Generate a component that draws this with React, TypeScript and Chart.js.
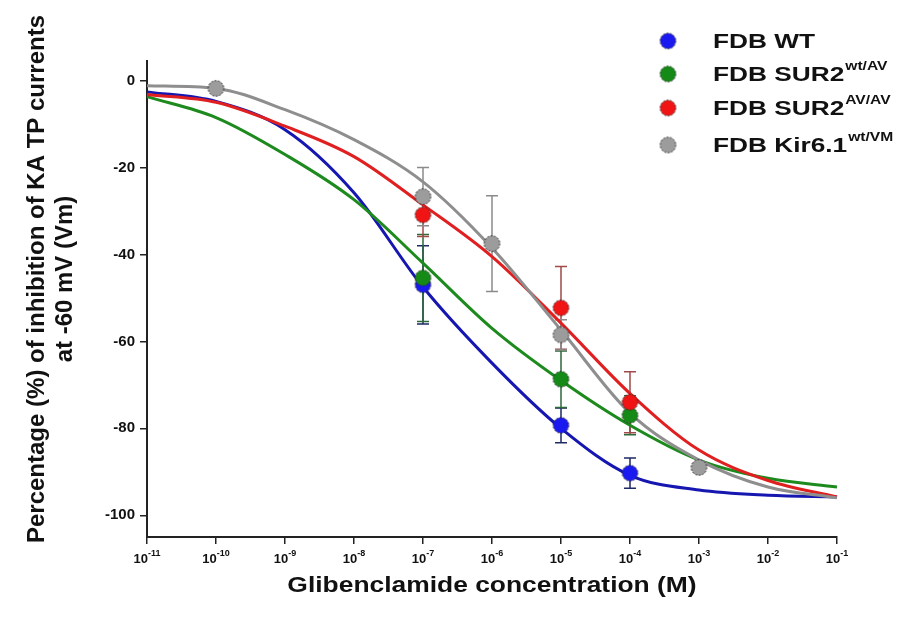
import React, { useEffect, useRef } from 'react';
import { Chart, registerables } from 'chart.js';

Chart.register(...registerables);

// ---------- data ----------
const CURVE_X = [1e-11, 1e-10, 1e-9, 1e-8, 1e-7, 1e-6, 1e-5, 1e-4, 1e-3, 1e-2, 1e-1];
const WT_CURVE = [-2.6, -4.8, -11.3, -25.8, -47.5, -65, -80, -90.8, -94.2, -95.4, -95.8];
const SUR2_WTAV_CURVE = [-3.7, -8.5, -17, -27.4, -42, -57, -69, -79.3, -87.3, -91.5, -93.5];
const SUR2_AVAV_CURVE = [-3.2, -5, -10.5, -17.5, -28.6, -40.5, -55.8, -72, -85, -92, -95.8];
const KIR_CURVE = [-1.2, -1.8, -6.7, -13.6, -23.3, -38.5, -57.4, -76.5, -87.3, -93.5, -96];

const WT_X = [1e-7, 1e-5, 1e-4];
const WT_Y = [-47, -79.3, -90.3];
const WT_ERR = [9, 4, 3.5];

const SUR2_WTAV_X = [1e-7, 1e-5, 1e-4];
const SUR2_WTAV_Y = [-45.4, -68.7, -77];
const SUR2_WTAV_ERR = [10, 6.5, 4.5];

const SUR2_AVAV_X = [1e-7, 1e-5, 1e-4];
const SUR2_AVAV_Y = [-30.9, -52.3, -74];
const SUR2_AVAV_ERR = [5, 9.5, 7];

const KIR_X = [1e-10, 1e-7, 1e-6, 1e-5, 1e-3];
const KIR_Y = [-1.8, -26.7, -37.5, -58.5, -89];
const KIR_ERR = [0, 6.7, 11, 3.5, 0];

const SERIES_LABELS = ['FDB WT', 'FDB SUR2', 'FDB SUR2', 'FDB Kir6.1'];
const SERIES_SUPERSCRIPTS = ['', 'wt/AV', 'AV/AV', 'wt/VM'];

const X_TICKS = [1e-11, 1e-10, 1e-9, 1e-8, 1e-7, 1e-6, 1e-5, 1e-4, 1e-3, 1e-2, 1e-1];
const X_TICK_EXPONENTS = ['-11', '-10', '-9', '-8', '-7', '-6', '-5', '-4', '-3', '-2', '-1'];
const Y_TICKS = [0, -20, -40, -60, -80, -100];

const X_TITLE = 'Glibenclamide concentration (M)';
const Y_TITLE_LINES = ['Percentage (%) of inhibition of KA TP currents', 'at -60 mV (Vm)'];

// ---------- styles ----------
const FONT = '"Liberation Sans", Arial, Helvetica, sans-serif';
const CURVE_COLORS = ['#1616b0', '#1d8a1d', '#e02020', '#8e8e8e'];
const MARKER_COLORS = ['#1a1af0', '#168a16', '#f01414', '#9c9c9c'];
const ERR_COLORS = ['#1e2a66', '#2c6a3a', '#a04a4a', '#8a8a8a'];

function makeMarker(color: string): HTMLCanvasElement {
  const r = 7.8;
  const size = 19;
  const c = document.createElement('canvas');
  c.width = size;
  c.height = size;
  const g = c.getContext('2d')!;
  g.beginPath();
  g.arc(size / 2, size / 2, r, 0, Math.PI * 2);
  g.fillStyle = color;
  g.fill();
  g.setLineDash([2, 1.5]);
  g.lineWidth = 1;
  g.strokeStyle = '#2a2a2a';
  g.stroke();
  return c;
}

function stretchedText(ctx: CanvasRenderingContext2D, text: string, x: number, y: number, sx: number) {
  ctx.save();
  ctx.translate(x, y);
  ctx.scale(sx, 1);
  ctx.fillText(text, 0, 0);
  ctx.restore();
}

export default function App() {
  const canvasRef = useRef<HTMLCanvasElement | null>(null);

  useEffect(() => {
    const canvas = canvasRef.current;
    if (!canvas) return;

    const markers = MARKER_COLORS.map(makeMarker);
    const curves = [WT_CURVE, SUR2_WTAV_CURVE, SUR2_AVAV_CURVE, KIR_CURVE];
    const pointsX = [WT_X, SUR2_WTAV_X, SUR2_AVAV_X, KIR_X];
    const pointsY = [WT_Y, SUR2_WTAV_Y, SUR2_AVAV_Y, KIR_Y];
    const pointsErr = [WT_ERR, SUR2_WTAV_ERR, SUR2_AVAV_ERR, KIR_ERR];

    const datasets: any[] = [];
    curves.forEach((cv, i) => {
      datasets.push({
        type: 'line',
        label: SERIES_LABELS[i] + ' fit',
        data: CURVE_X.map((x, k) => ({ x, y: cv[k] })),
        borderColor: CURVE_COLORS[i],
        borderWidth: 3,
        pointRadius: 0,
        fill: false,
        cubicInterpolationMode: 'monotone',
        order: 20 - i,
        clip: false,
      });
    });
    pointsX.forEach((xs, i) => {
      datasets.push({
        type: 'scatter',
        label: SERIES_LABELS[i] + SERIES_SUPERSCRIPTS[i],
        data: xs.map((x, k) => ({ x, y: pointsY[i][k] })),
        errors: pointsErr[i],
        errColor: ERR_COLORS[i],
        pointStyle: markers[i],
        pointRadius: 8,
        backgroundColor: MARKER_COLORS[i],
        borderColor: '#2a2a2a',
        showLine: false,
        order: 4 - i,
        clip: false,
      });
    });

    const errorBars = {
      id: 'errorBars',
      beforeDatasetsDraw(chart: any) {
        const ctx = chart.ctx;
        const ys = chart.scales.y;
        chart.data.datasets.forEach((ds: any, di: number) => {
          if (!ds.errors) return;
          const meta = chart.getDatasetMeta(di);
          meta.data.forEach((el: any, k: number) => {
            const e = ds.errors[k];
            if (!e) return;
            const v = ds.data[k].y;
            const top = ys.getPixelForValue(v + e);
            const bot = ys.getPixelForValue(v - e);
            ctx.save();
            ctx.strokeStyle = ds.errColor;
            ctx.lineWidth = 1.5;
            ctx.beginPath();
            ctx.moveTo(el.x, top);
            ctx.lineTo(el.x, bot);
            ctx.moveTo(el.x - 6, top);
            ctx.lineTo(el.x + 6, top);
            ctx.moveTo(el.x - 6, bot);
            ctx.lineTo(el.x + 6, bot);
            ctx.stroke();
            ctx.restore();
          });
        });
      },
    };

    const decorations = {
      id: 'decorations',
      afterDraw(chart: any) {
        const ctx = chart.ctx;
        const xs = chart.scales.x;
        ctx.save();
        ctx.fillStyle = '#111';
        // x tick labels 10^n
        X_TICKS.forEach((v, i) => {
          const px = xs.getPixelForValue(v);
          ctx.font = `bold 13px ${FONT}`;
          const bw = ctx.measureText('10').width;
          ctx.font = `bold 9px ${FONT}`;
          const ew = ctx.measureText(X_TICK_EXPONENTS[i]).width;
          const start = px - (bw + ew) / 2;
          ctx.textBaseline = 'alphabetic';
          ctx.textAlign = 'left';
          ctx.font = `bold 13px ${FONT}`;
          ctx.fillText('10', start, 563);
          ctx.font = `bold 9px ${FONT}`;
          ctx.fillText(X_TICK_EXPONENTS[i], start + bw, 556);
        });
        // x title
        ctx.font = `bold 22px ${FONT}`;
        ctx.textAlign = 'center';
        ctx.textBaseline = 'middle';
        stretchedText(ctx, X_TITLE, (chart.chartArea.left + chart.chartArea.right) / 2, 586, 1.2);
        // y title
        ctx.save();
        ctx.font = `bold 24px ${FONT}`;
        ctx.translate(37, 279);
        ctx.rotate(-Math.PI / 2);
        ctx.fillText(Y_TITLE_LINES[0], 0, 0);
        ctx.fillText(Y_TITLE_LINES[1], 0, 28);
        ctx.restore();
        // legend
        const rows = [41, 74, 108, 145];
        const sx = 1.25;
        SERIES_LABELS.forEach((lab, i) => {
          const y = rows[i];
          ctx.drawImage(markers[i], 668 - 9.5, y - 9.5);
          ctx.textAlign = 'left';
          ctx.textBaseline = 'middle';
          ctx.font = `bold 21px ${FONT}`;
          stretchedText(ctx, lab, 713, y + 1, sx);
          const w = ctx.measureText(lab).width * sx;
          if (SERIES_SUPERSCRIPTS[i]) {
            ctx.font = `bold 13px ${FONT}`;
            stretchedText(ctx, SERIES_SUPERSCRIPTS[i], 713 + w + 1, y - 8, 1.2);
          }
        });
        ctx.restore();
      },
    };

    const chart = new Chart(canvas, {
      type: 'scatter',
      data: { datasets },
      options: {
        animation: false,
        responsive: true,
        maintainAspectRatio: false,
        layout: { padding: { left: 0, right: 67, top: 61, bottom: 0 } },
        plugins: {
          legend: { display: false },
          tooltip: { enabled: false },
        },
        scales: {
          x: {
            type: 'logarithmic',
            min: 1e-11,
            max: 1e-1,
            afterBuildTicks(scale: any) {
              scale.ticks = X_TICKS.map((v) => ({ value: v }));
            },
            afterFit(scale: any) {
              scale.height = 82;
            },
            ticks: { display: false },
            grid: {
              drawOnChartArea: false,
              drawTicks: true,
              tickLength: 7,
              color: '#222',
              lineWidth: 1.5,
            },
            border: { display: true, color: '#222', width: 2 },
          },
          y: {
            type: 'linear',
            min: -105,
            max: 4.5,
            afterBuildTicks(scale: any) {
              scale.ticks = Y_TICKS.map((v) => ({ value: v }));
            },
            afterFit(scale: any) {
              scale.width = 147;
            },
            ticks: {
              color: '#111',
              font: { family: FONT, size: 15, weight: 'bold' },
              padding: 5,
            },
            grid: {
              drawOnChartArea: false,
              drawTicks: true,
              tickLength: 7,
              color: '#222',
              lineWidth: 1.5,
            },
            border: { display: true, color: '#222', width: 2 },
          },
        },
      } as any,
      plugins: [errorBars, decorations],
    });

    return () => chart.destroy();
  }, []);

  return (
    <div style={{ position: 'absolute', left: 0, top: 0, width: 904, height: 619, background: '#fff' }}>
      <canvas ref={canvasRef} />
    </div>
  );
}
